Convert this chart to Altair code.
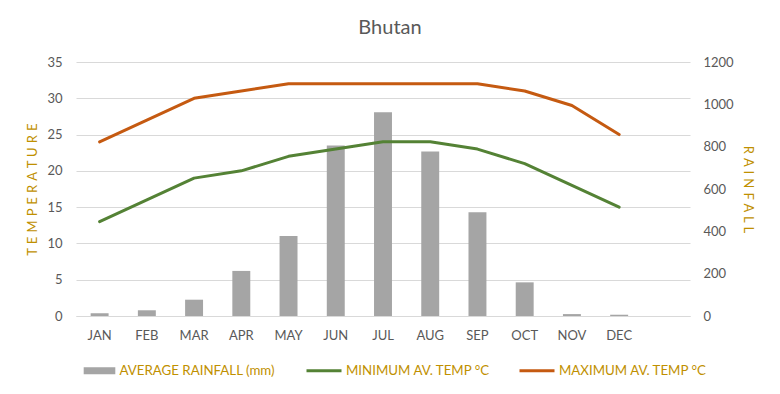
import altair as alt
import pandas as pd

months = ["JAN", "FEB", "MAR", "APR", "MAY", "JUN", "JUL", "AUG", "SEP", "OCT", "NOV", "DEC"]
rainfall = [13, 27, 77, 213, 378, 805, 963, 777, 490, 159, 9, 6]
min_temp = [13, 16, 19, 20, 22, 23, 24, 24, 23, 21, 18, 15]
max_temp = [24, 27, 30, 31, 32, 32, 32, 32, 32, 31, 29, 25]

rain_label = "AVERAGE RAINFALL (mm)"
min_label = "MINIMUM AV. TEMP °C"
max_label = "MAXIMUM AV. TEMP °C"

temp_ticks = [0, 5, 10, 15, 20, 25, 30, 35]
rain_ticks = [0, 200, 400, 600, 800, 1000, 1200]
x_domain = months + [" "]

rain_df = pd.DataFrame({"month": months, "rain": rainfall, "series": [rain_label] * 12})
temp_df = pd.DataFrame({
    "month": months * 2,
    "temp": min_temp + max_temp,
    "series": [min_label] * 12 + [max_label] * 12,
})

FONT = "Lato"
GOLD = "#BF9000"
TXT = "#595959"
SP = " \u200a"
left_title = SP.join("TEMPERATURE")
right_title = SP.join("RAINFALL")

x_enc = alt.X(
    "month:N",
    sort=x_domain,
    scale=alt.Scale(type="band", domain=x_domain, paddingInner=0, paddingOuter=0),
    axis=alt.Axis(orient="bottom", labelAngle=0, labelPadding=13, domain=True,
                  domainColor="#D9D9D9", ticks=False, grid=False),
    title=None,
)

bars = alt.Chart(rain_df).mark_bar(width=alt.RelativeBandSize(0.38)).encode(
    x=x_enc,
    y=alt.Y(
        "rain:Q",
        scale=alt.Scale(domain=[0, 1200], nice=False),
        axis=alt.Axis(orient="right", values=rain_ticks, format="d", grid=False, labelPadding=13,
                      title=right_title, titleAngle=90, titleX=57, titleY=127,
                      titleAlign="center", titleBaseline="middle"),
    ),
    color=alt.Color(
        "series:N",
        scale=alt.Scale(domain=[rain_label], range=["#A5A5A5"]),
        legend=alt.Legend(orient="none", legendX=6.5, legendY=291.7, direction="horizontal",
                          title=None, symbolType="M-1,-0.22H1V0.22H-1Z", symbolSize=1000),
    ),
)

lines = alt.Chart(temp_df).mark_line(strokeWidth=3, strokeCap="round", strokeJoin="round").encode(
    x=x_enc,
    y=alt.Y(
        "temp:Q",
        scale=alt.Scale(domain=[0, 35], nice=False),
        axis=alt.Axis(orient="left", values=temp_ticks, grid=True, labelPadding=14,
                      title=left_title, titleAngle=270, titleX=-44, titleY=127,
                      titleAlign="center", titleBaseline="middle"),
    ),
    color=alt.Color(
        "series:N",
        scale=alt.Scale(domain=[min_label, max_label], range=["#548235", "#C55A11"]),
        legend=alt.Legend(orient="none", legendX=229, legendY=289.5, direction="horizontal",
                          columns=2, columnPadding=22, title=None, symbolType="stroke",
                          symbolSize=1225, symbolStrokeWidth=3),
    ),
)

chart = alt.layer(bars, lines).resolve_scale(y="independent", color="independent").properties(
    width=614,
    height=254,
    autosize=alt.AutoSizeParams(type="none"),
    padding={"left": 68, "top": 54, "right": 82, "bottom": 70},
    title=alt.TitleParams("Bhutan", font=FONT, fontSize=20, color=TXT, fontWeight="normal",
                          anchor="middle", baseline="alphabetic", offset=2, dx=7),
).configure_axis(
    labelFont=FONT, labelFontSize=13, labelColor=TXT, ticks=False, domain=False,
    gridColor="#D9D9D9", gridWidth=1, titleFont=FONT, titleFontSize=13,
    titleColor=GOLD, titleFontWeight="normal",
).configure_legend(
    labelFont=FONT, labelFontSize=13.3, labelColor=GOLD, padding=0, labelOffset=3,
).configure_view(strokeWidth=0)

chart.save("out.html", embed_options={"renderer": "svg", "actions": False})
